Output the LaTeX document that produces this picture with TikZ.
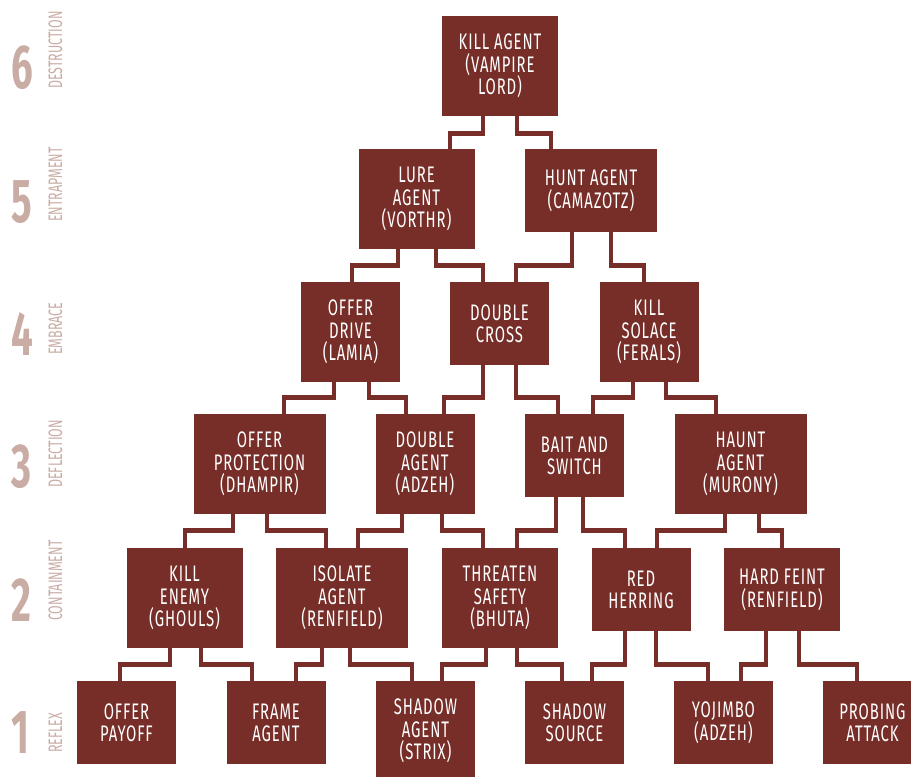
\documentclass[tikz,border=0pt]{standalone}
\usepackage{fontspec}
\setmainfont{Fira Sans}
\newfontfamily\boxfont{Fira Sans}[FakeStretch=0.66, LetterSpace=4]
\newfontfamily\levelfont{Fira Sans}[FakeStretch=0.62]
\newfontfamily\wordfont{Fira Sans}[FakeStretch=0.64]

\definecolor{tacticred}{RGB}{119,46,40}
\definecolor{levelpink}{RGB}{201,172,163}

\tikzset{
    tactic/.style={fill=tacticred, text=white, inner sep=0pt, anchor=north,
        align=center, font=\boxfont\fontsize{22.5}{22.5}\selectfont},
    tallbox/.style={minimum height=100},
    lowbox/.style={minimum height=83},
    narrowbox/.style={minimum width=99},
    midbox/.style={minimum width=116},
    widebox/.style={minimum width=132},
    tacticline/.style={draw=tacticred, line width=4.6pt},
    levelnum/.style={text=levelpink, inner sep=0pt, anchor=base west,
        font=\levelfont\bfseries\fontsize{62}{62}\selectfont},
    levelword/.style={text=levelpink, inner sep=0pt, anchor=base west, rotate=90,
        font=\wordfont\fontsize{19.5}{19.5}\selectfont}
}

% parent, leg shift, drop, child, entry shift
\newcommand{\tacticlink}[5]{\draw[tacticline] ([xshift=#2]#1.south) -- ++(0,#3) -| ([xshift=#5]#4.north);}

\begin{document}
\begin{tikzpicture}[x=1pt, y=-1pt]
    \useasboundingbox (0,0) rectangle (911,777);
    \clip (0,0) rectangle (911,777);

    % --- Livelli (colonna di sinistra) ---
    \node[levelnum] (n6) at (11,88) {6};
    \node[levelword] (w6) at (62,89) {DESTRUCTION};
    \node[levelnum] (n5) at (11,222) {5};
    \node[levelword] (w5) at (62,222) {ENTRAPMENT};
    \node[levelnum] (n4) at (11,355) {4};
    \node[levelword] (w4) at (62,355) {EMBRACE};
    \node[levelnum] (n3) at (11,487) {3};
    \node[levelword] (w3) at (62,488) {DEFLECTION};
    \node[levelnum] (n2) at (11,621) {2};
    \node[levelword] (w2) at (62,621) {CONTAINMENT};
    \node[levelnum] (n1) at (11,753) {1};
    \node[levelword] (w1) at (62,753) {REFLEX};

    % --- Livello 6 ---
    \node[tactic, midbox, tallbox] (killagent) at (500,16) {KILL AGENT\\(VAMPIRE\\LORD)};

    % --- Livello 5 ---
    \node[tactic, midbox, tallbox] (lure) at (416.5,149) {LURE\\AGENT\\(VORTHR)};
    \node[tactic, widebox, lowbox] (hunt) at (591,149) {HUNT AGENT\\(CAMAZOTZ)};

    % --- Livello 4 ---
    \node[tactic, narrowbox, tallbox] (drive) at (350.5,282) {OFFER\\DRIVE\\(LAMIA)};
    \node[tactic, narrowbox, lowbox] (cross) at (499.5,282) {DOUBLE\\CROSS};
    \node[tactic, narrowbox, tallbox] (solace) at (649,282) {KILL\\SOLACE\\(FERALS)};

    % --- Livello 3 ---
    \node[tactic, widebox, tallbox] (protection) at (259.5,414) {OFFER\\PROTECTION\\(DHAMPIR)};
    \node[tactic, narrowbox, tallbox] (doubleagent) at (425,414) {DOUBLE\\AGENT\\(ADZEH)};
    \node[tactic, narrowbox, lowbox] (bait) at (574.5,414) {BAIT AND\\SWITCH};
    \node[tactic, widebox, tallbox] (haunt) at (740.5,414) {HAUNT\\AGENT\\(MURONY)};

    % --- Livello 2 ---
    \node[tactic, midbox, tallbox] (enemy) at (184.5,548) {KILL\\ENEMY\\(GHOULS)};
    \node[tactic, widebox, tallbox] (isolate) at (342,548) {ISOLATE\\AGENT\\(RENFIELD)};
    \node[tactic, midbox, tallbox] (threaten) at (500,548) {THREATEN\\SAFETY\\(BHUTA)};
    \node[tactic, narrowbox, lowbox] (herring) at (641,548) {RED\\HERRING};
    \node[tactic, midbox, lowbox] (feint) at (782,548) {HARD FEINT\\(RENFIELD)};

    % --- Livello 1 ---
    \node[tactic, narrowbox, lowbox] (payoff) at (126.5,681) {OFFER\\PAYOFF};
    \node[tactic, narrowbox, lowbox] (frame) at (276,681) {FRAME\\AGENT};
    \node[tactic, narrowbox, tallbox] (shadowagent) at (425.5,681) {SHADOW\\AGENT\\(STRIX)};
    \node[tactic, narrowbox, lowbox] (source) at (574.5,681) {SHADOW\\SOURCE};
    \node[tactic, narrowbox, lowbox] (yojimbo) at (723.5,681) {YOJIMBO\\(ADZEH)};
    \node[tactic, narrowbox, lowbox] (probing) at (872.5,681) {PROBING\\ATTACK};

    % --- Collegamenti 6 -> 5 ---
    \tacticlink{killagent}{-17}{17}{lure}{33.5}
    \tacticlink{killagent}{17}{17}{hunt}{-40}

    % --- Collegamenti 5 -> 4 ---
    \tacticlink{lure}{-18.5}{16}{drive}{1.5}
    \tacticlink{lure}{19.5}{16}{cross}{-16.5}
    \tacticlink{hunt}{-19}{33}{cross}{16.5}
    \tacticlink{hunt}{20}{33}{solace}{-5}

    % --- Collegamenti 4 -> 3 ---
    \tacticlink{drive}{-16.5}{15}{protection}{24.5}
    \tacticlink{drive}{18.5}{15}{doubleagent}{-19}
    \tacticlink{cross}{-16.5}{32}{doubleagent}{19}
    \tacticlink{cross}{16.5}{32}{bait}{-16.5}
    \tacticlink{solace}{-16}{15}{bait}{18.5}
    \tacticlink{solace}{17}{15}{haunt}{-24.5}

    % --- Collegamenti 3 -> 2 ---
    \tacticlink{protection}{-26.5}{16}{enemy}{0.5}
    \tacticlink{protection}{7.5}{16}{isolate}{-16}
    \tacticlink{doubleagent}{-23}{16}{isolate}{16}
    \tacticlink{doubleagent}{17}{16}{threaten}{-17}
    \tacticlink{bait}{-18.5}{33}{threaten}{17}
    \tacticlink{bait}{8.5}{33}{herring}{-16}
    \tacticlink{haunt}{-15.5}{16}{herring}{16}
    \tacticlink{haunt}{18.5}{16}{feint}{0}

    % --- Collegamenti 2 -> 1 ---
    \tacticlink{enemy}{-14.5}{16}{payoff}{-6.5}
    \tacticlink{enemy}{16.5}{16}{frame}{-24}
    \tacticlink{isolate}{-20}{16}{frame}{20}
    \tacticlink{isolate}{8}{16}{shadowagent}{-13.5}
    \tacticlink{threaten}{-14}{16}{shadowagent}{16.5}
    \tacticlink{threaten}{17}{16}{source}{-12.5}
    \tacticlink{herring}{-16}{33}{source}{17.5}
    \tacticlink{herring}{15}{33}{yojimbo}{-15.5}
    \tacticlink{feint}{-16}{33}{yojimbo}{17.5}
    \tacticlink{feint}{17}{33}{probing}{-15.5}
\end{tikzpicture}
\end{document}
